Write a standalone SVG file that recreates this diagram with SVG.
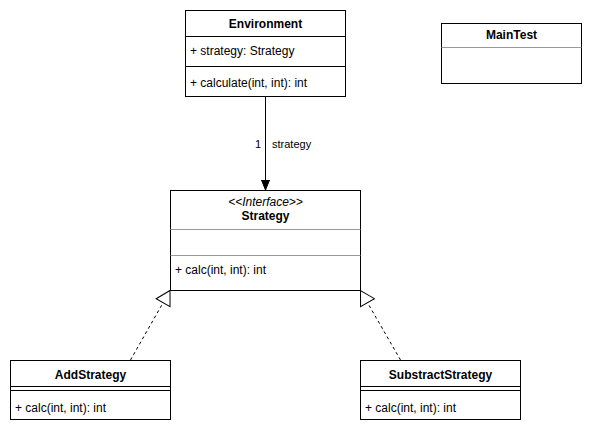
<svg xmlns="http://www.w3.org/2000/svg" width="592" height="434" viewBox="0 0 592 434">
<style>
  .box { fill: #ffffff; stroke: #000000; stroke-width: 1; }
  .sep { stroke: #000000; stroke-width: 1; }
  .gsep { stroke: #999999; stroke-width: 1; }
  text { font-family: "Liberation Sans", Arial, Helvetica, sans-serif; font-size: 12px; fill: #000000; }
  .title { font-weight: bold; text-anchor: middle; }
  .it { font-style: italic; text-anchor: middle; font-size: 12px; }
  .lbl { font-size: 11px; }
  .edge { fill: none; stroke: #000000; stroke-width: 1; }
  .dash { stroke-dasharray: 3 3; }
</style>
<defs>
  <marker id="filled" viewBox="0 0 10 10" refX="10" refY="5" markerWidth="10" markerHeight="10" markerUnits="userSpaceOnUse" orient="auto">
    <path d="M0,1 L10,5 L0,9 Z" fill="#000000" stroke="#000000" stroke-width="1"/>
  </marker>
  <marker id="hollow" viewBox="-1 -1 16 18" refX="14" refY="8" markerWidth="16" markerHeight="18" markerUnits="userSpaceOnUse" orient="auto">
    <path d="M0,0 L14,8 L0,16 Z" fill="#ffffff" stroke="#000000" stroke-width="1"/>
  </marker>
</defs>
<rect x="0" y="0" width="592" height="434" fill="#ffffff"/>

<g id="connectors">
  <line class="edge" x1="265.5" y1="96" x2="265.5" y2="190" marker-end="url(#filled)"/>
  <text class="lbl" x="261" y="148" text-anchor="end">1</text>
  <text class="lbl" x="272" y="148">strategy</text>
  <line class="edge dash" x1="130.5" y1="360" x2="170" y2="290.5" marker-end="url(#hollow)"/>
  <line class="edge dash" x1="400.5" y1="360" x2="360.5" y2="290.5" marker-end="url(#hollow)"/>
</g>

<g id="Environment">
  <rect class="box" x="185.5" y="10.5" width="160" height="86"/>
  <line class="sep" x1="185.5" y1="36.5" x2="345.5" y2="36.5"/>
  <line class="sep" x1="185.5" y1="66.5" x2="345.5" y2="66.5"/>
  <text class="title" x="265.5" y="28">Environment</text>
  <text x="190" y="55">+ strategy: Strategy</text>
  <text x="190" y="87">+ calculate(int, int): int</text>
</g>

<g id="MainTest">
  <rect class="box" x="441.5" y="23.5" width="140" height="60"/>
  <line class="gsep" x1="441.5" y1="47.5" x2="581.5" y2="47.5"/>
  <text class="title" x="511.5" y="39">MainTest</text>
</g>

<g id="Strategy">
  <rect class="box" x="170.5" y="190.5" width="190" height="100"/>
  <line class="gsep" x1="170.5" y1="229.5" x2="360.5" y2="229.5"/>
  <line class="gsep" x1="170.5" y1="255.5" x2="360.5" y2="255.5"/>
  <text class="it" x="265.5" y="206">&lt;&lt;Interface&gt;&gt;</text>
  <text class="title" x="265.5" y="220">Strategy</text>
  <text x="175" y="274">+ calc(int, int): int</text>
</g>

<g id="AddStrategy">
  <rect class="box" x="10.5" y="360.5" width="160" height="59"/>
  <line class="sep" x1="10.5" y1="386.5" x2="170.5" y2="386.5"/>
  <line class="sep" x1="10.5" y1="390.5" x2="170.5" y2="390.5"/>
  <text class="title" x="90.5" y="379">AddStrategy</text>
  <text x="15" y="412">+ calc(int, int): int</text>
</g>

<g id="SubstractStrategy">
  <rect class="box" x="360.5" y="360.5" width="160" height="59"/>
  <line class="sep" x1="360.5" y1="386.5" x2="520.5" y2="386.5"/>
  <line class="sep" x1="360.5" y1="390.5" x2="520.5" y2="390.5"/>
  <text class="title" x="440.5" y="379">SubstractStrategy</text>
  <text x="365" y="412">+ calc(int, int): int</text>
</g>
</svg>
